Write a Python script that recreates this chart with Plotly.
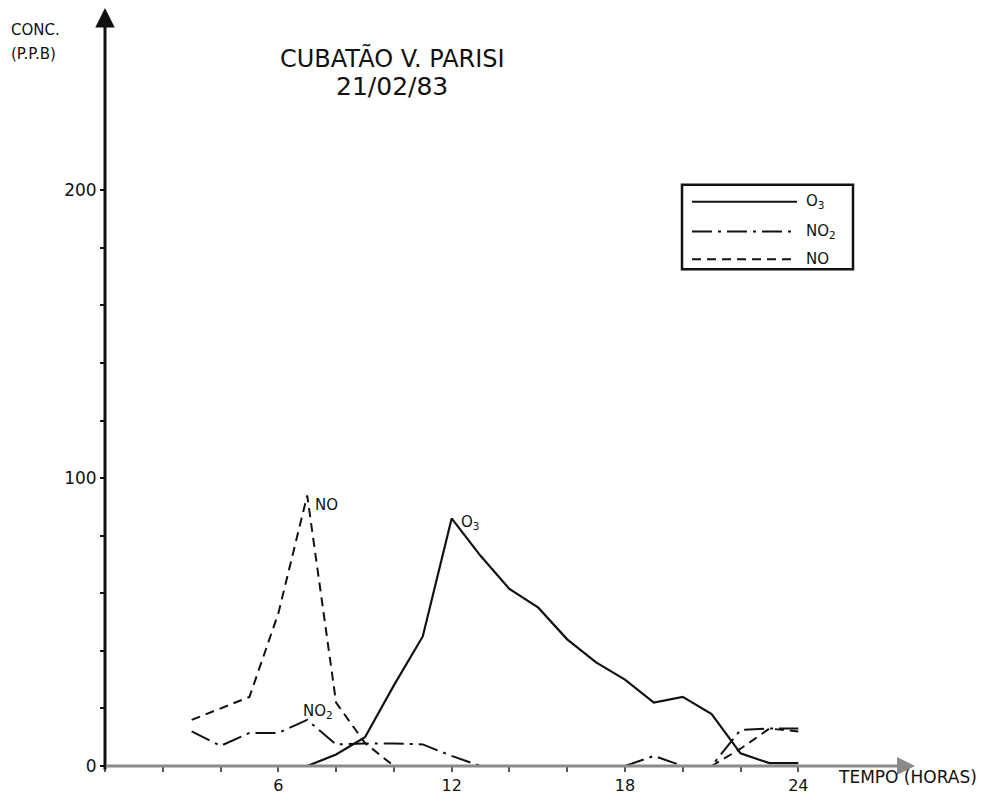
import plotly.graph_objects as go

# ---------------- data ----------------
hours_o3 = list(range(7, 25))
o3 = [0, 4, 10, 28, 45, 86, 73, 61.5, 55, 44, 36, 30, 22, 24, 18, 4.4, 1, 1]

hours_nox = list(range(3, 25))
no2 = [12, 7, 11.5, 11.5, 16, 7.5, 7.8, 7.8, 7.5, 3.5,
       0, 0, 0, 0, 0, 0, 3.5, 0, 0, 12.5, 13, 13]
no = [16, 20, 24, 53, 94, 22, 8, 0,
      0, 0, 0, 0, 0, 0, 0, 0, 0, 0, 0,
      6, 13, 12]

x_tickvals = list(range(0, 25, 2))
x_ticktext = [str(v) if v in (6, 12, 18, 24) else "" for v in x_tickvals]
y_tickvals = list(range(0, 201, 20))
y_ticktext = [str(v) if v in (0, 100, 200) else "" for v in y_tickvals]

title_line1 = "CUBATÃO V. PARISI"
title_line2 = "21/02/83"
y_title = ["CONC.", "(P.P.B)"]
x_title = "TEMPO (HORAS)"
series_names = ["O<sub>3</sub>", "NO<sub>2</sub>", "NO"]

# ---------------- layout geometry ----------------
W, H = 982, 803
L, R, T, B = 105, 67, 8, 32
PW, PH = W - L - R, H - T - B
X_MAX = 28.04
Y_MAX = 263.3

def px(x):
    return (x - L) / PW

def py(y):
    return (H - B - y) / PH

FONT = "DejaVu Sans"
BLACK = "#111111"
DASH_NO = "9px,6px"
DASH_NO2 = "20px,6px,3px,6px"

fig = go.Figure()
fig.add_trace(go.Scatter(x=hours_o3, y=o3, mode="lines", name="O3",
                         line=dict(color=BLACK, width=2.2), showlegend=False))
fig.add_trace(go.Scatter(x=hours_nox, y=no2, mode="lines", name="NO2",
                         line=dict(color=BLACK, width=2, dash=DASH_NO2), showlegend=False))
fig.add_trace(go.Scatter(x=hours_nox, y=no, mode="lines", name="NO",
                         line=dict(color=BLACK, width=2, dash=DASH_NO), showlegend=False))

annotations = []
# axis arrows
annotations.append(dict(x=0, y=Y_MAX, xref="x", yref="y", showarrow=True,
                        ax=0, ay=PH, axref="pixel", ayref="pixel",
                        arrowhead=2, arrowsize=1.3, arrowwidth=3, arrowcolor=BLACK, text=""))
annotations.append(dict(x=X_MAX, y=0, xref="x", yref="y", showarrow=True,
                        ax=-PW, ay=0, arrowhead=2, arrowsize=1.2, arrowwidth=3,
                        arrowcolor="#8a8a8a", text=""))

# curve labels anchored to the peaks
i_no = no.index(max(no))
annotations.append(dict(x=hours_nox[i_no], y=no[i_no], text="NO", showarrow=False,
                        xanchor="left", yanchor="middle", xshift=6, yshift=-10,
                        font=dict(family=FONT, size=15, color=BLACK)))
i_o3 = o3.index(max(o3))
annotations.append(dict(x=hours_o3[i_o3], y=o3[i_o3], text="O<sub>3</sub>", showarrow=False,
                        xanchor="left", yanchor="middle", xshift=7, yshift=-4,
                        font=dict(family=FONT, size=15, color=BLACK)))
i_no2 = no2.index(max(no2[:8]))
annotations.append(dict(x=hours_nox[i_no2], y=no2[i_no2], text="NO<sub>2</sub>", showarrow=False,
                        xanchor="left", yanchor="bottom", xshift=-6, yshift=-3,
                        font=dict(family=FONT, size=15, color=BLACK)))

# titles
annotations.append(dict(x=px(392), y=py(58), xref="paper", yref="paper", text=title_line1,
                        showarrow=False, xanchor="center", yanchor="middle",
                        font=dict(family=FONT, size=24, color=BLACK)))
annotations.append(dict(x=px(392), y=py(87), xref="paper", yref="paper", text=title_line2,
                        showarrow=False, xanchor="center", yanchor="middle",
                        font=dict(family=FONT, size=25, color=BLACK)))
annotations.append(dict(x=px(9), y=py(30), xref="paper", yref="paper", text=y_title[0],
                        showarrow=False, xanchor="left", yanchor="middle",
                        font=dict(family=FONT, size=15, color=BLACK)))
annotations.append(dict(x=px(9), y=py(54), xref="paper", yref="paper", text=y_title[1],
                        showarrow=False, xanchor="left", yanchor="middle",
                        font=dict(family=FONT, size=15, color=BLACK)))
annotations.append(dict(x=px(836), y=py(782), xref="paper", yref="paper", text=x_title,
                        showarrow=False, xanchor="left", yanchor="middle",
                        font=dict(family=FONT, size=17, color=BLACK)))

# manual legend
shapes = [dict(type="rect", xref="paper", yref="paper",
               x0=px(682), x1=px(853), y0=py(271), y1=py(186),
               line=dict(color=BLACK, width=2.5), fillcolor="rgba(0,0,0,0)")]
leg_rows = [203, 233, 261]
leg_dash = ["solid", DASH_NO2, DASH_NO]
for yy, dsh, name in zip(leg_rows, leg_dash, series_names):
    shapes.append(dict(type="line", xref="paper", yref="paper",
                       x0=px(692), x1=px(797), y0=py(yy), y1=py(yy),
                       line=dict(color=BLACK, width=2, dash=dsh)))
    annotations.append(dict(x=px(804), y=py(yy), xref="paper", yref="paper", text=name,
                            showarrow=False, xanchor="left", yanchor="middle",
                            font=dict(family=FONT, size=15, color=BLACK)))

fig.update_layout(
    width=W, height=H,
    margin=dict(l=L, r=R, t=T, b=B, pad=0),
    paper_bgcolor="white", plot_bgcolor="white",
    showlegend=False,
    annotations=annotations, shapes=shapes,
    xaxis=dict(range=[0, X_MAX], showgrid=False, zeroline=False, showline=False,
               tickmode="array", tickvals=x_tickvals, ticktext=x_ticktext,
               ticks="outside", ticklen=5, tickwidth=1.5, tickcolor="#555555",
               tickfont=dict(family=FONT, size=16, color=BLACK)),
    yaxis=dict(range=[0, Y_MAX], showgrid=False, zeroline=False, showline=False,
               tickmode="array", tickvals=y_tickvals, ticktext=y_ticktext,
               ticks="outside", ticklen=4, tickwidth=1.5, tickcolor=BLACK,
               tickfont=dict(family=FONT, size=17, color=BLACK)),
)

fig.write_html("out.html")
